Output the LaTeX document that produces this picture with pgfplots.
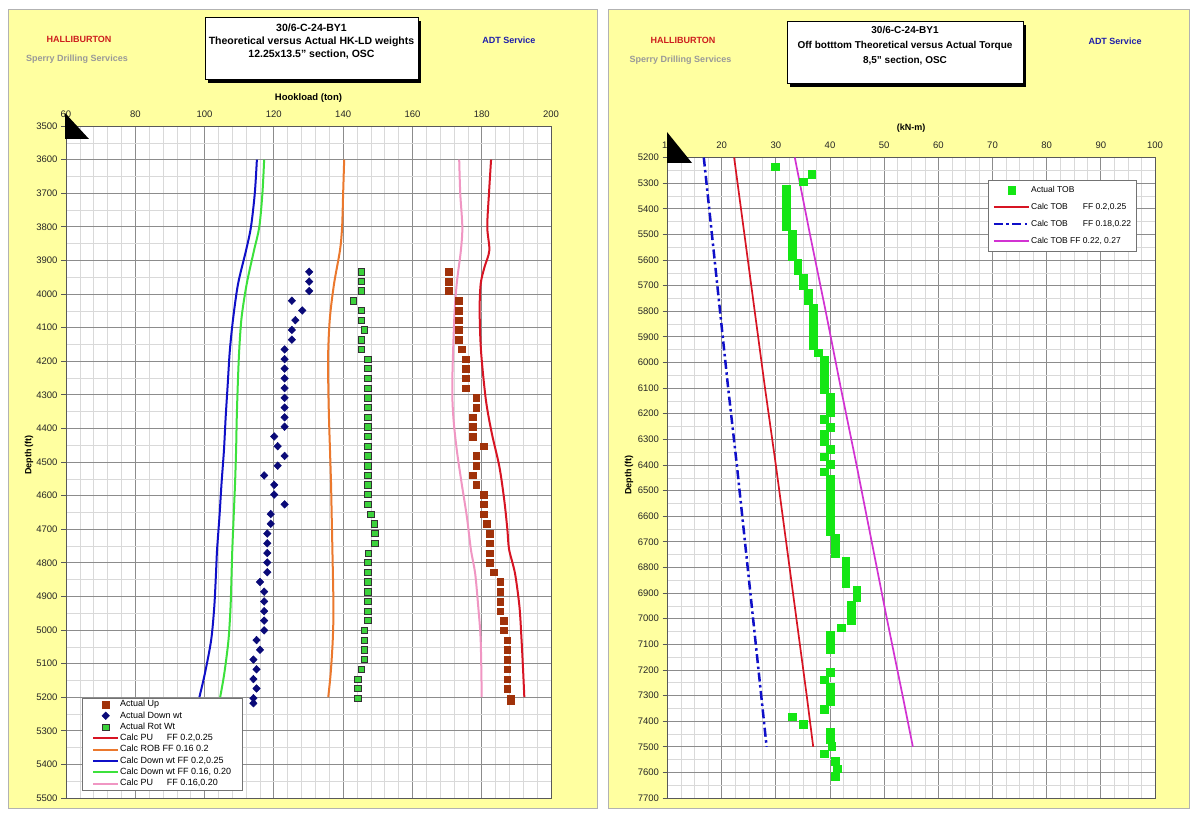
\documentclass[border=0pt]{standalone}
\usepackage{pgfplots}
\pgfplotsset{compat=1.18}
\usepackage{fontspec}
\setmainfont{Liberation Sans}
\definecolor{panelyellow}{RGB}{255,255,160}
\definecolor{upbrown}{RGB}{160,50,10}
\definecolor{navyd}{RGB}{10,10,120}
\definecolor{rotgreen}{RGB}{60,210,60}
\definecolor{calcred}{RGB}{215,20,35}
\definecolor{calcorange}{RGB}{235,120,45}
\definecolor{calcblue}{RGB}{15,15,200}
\definecolor{calcgreen}{RGB}{60,225,60}
\definecolor{calcpink}{RGB}{240,150,195}
\definecolor{tobgreen}{RGB}{20,230,20}
\definecolor{tobmag}{RGB}{210,50,210}
\definecolor{hred}{RGB}{205,30,30}
\definecolor{adtblue}{RGB}{30,30,170}
\pgfplotsset{
  lineL/.style={legend image code/.code={\draw[##1] (0pt,0pt) -- (25pt,0pt);}},
  markL/.style={legend image code/.code={\draw[mark repeat=2,mark phase=2,##1] plot coordinates {(0pt,0pt) (12.5pt,0pt) (25pt,0pt)};}},
  lineR/.style={legend image code/.code={\draw[##1] (0pt,0pt) -- (35pt,0pt);}},
  markR/.style={legend image code/.code={\draw[mark repeat=2,mark phase=2,##1] plot coordinates {(0pt,0pt) (17.5pt,0pt) (35pt,0pt)};}},
  panel/.style={
    scale only axis, anchor=south west, y dir=reverse,
    grid=both,
    major grid style={draw=black!45, line width=0.8pt},
    minor grid style={draw=black!15, line width=0.5pt},
    axis line style={draw=black!65, line width=0.9pt},
    axis background/.style={fill=white},
    xticklabel pos=upper, xtick pos=right, ytick pos=left,
    tick align=outside, major tick length=5pt, minor tick length=0pt,
    x tick style={draw=none},
    tick style={draw=black!65, line width=0.8pt},
    tick label style={font=\fontsize{9.5}{11}\selectfont, text=black!85},
    /pgf/number format/assume math mode=true,
    yticklabel style={/pgf/number format/1000 sep={}},
    legend cell align=left,
  },
}
\begin{document}
\begin{tikzpicture}
\begin{scope}[x=1pt,y=1pt]
\useasboundingbox (0,0) rectangle (1191,812);
\fill[white] (0,0) rectangle (1191,812);
\filldraw[fill=panelyellow, draw=black!30, line width=1pt] (8,4) rectangle (597,802);
\filldraw[fill=panelyellow, draw=black!30, line width=1pt] (608,4) rectangle (1189,802);
\end{scope}

% ---------- LEFT PANEL ----------
\begin{axis}[panel,
  at={(66pt,14pt)}, width=485pt, height=672pt,
  xmin=60, xmax=200, ymin=3500, ymax=5500,
  xtick={60,80,...,200}, ytick={3500,3600,...,5500},
  minor x tick num=4, minor y tick num=1,
  legend style={at={(0.033,0.1488)}, anchor=north west, draw=black!55, fill=white,
    font=\fontsize{9}{11}\selectfont, inner xsep=10pt, inner ysep=1.5pt, row sep=1.8pt,
    nodes={inner xsep=1pt, inner ysep=0.5pt, text height=6.5pt, text depth=2pt}},
]
\addplot[only marks, mark=square*, mark size=3.3pt, draw=upbrown, fill=upbrown, line width=0.5pt, markL] coordinates {
(170.4,3934) (170.4,3963) (170.4,3991) (173.4,4020) (173.4,4049) (173.4,4078) (173.4,4107) (173.4,4136) (174.3,4165) (175.4,4194) (175.4,4222) (175.4,4251) (175.4,4280) (178.4,4309) (178.4,4338) (177.4,4367) (177.4,4395) (177.4,4424) (180.5,4453) (178.4,4482) (178.4,4511) (177.4,4540) (178.4,4568) (180.5,4597) (180.5,4626) (180.5,4655) (181.4,4684) (182.4,4713) (182.4,4742) (182.4,4771) (182.4,4799) (183.4,4828) (185.4,4857) (185.4,4886) (185.4,4915) (185.4,4944) (186.4,4972) (186.4,5001) (187.4,5030) (187.4,5059) (187.4,5088) (187.4,5117) (187.4,5146) (187.4,5174) (188.4,5203) (188.4,5212)};
\addlegendentry{Actual Up}
\addplot[only marks, mark=diamond*, mark size=3.8pt, draw=navyd, fill=navyd, line width=0.5pt, mark options={xscale=1.3}, markL] coordinates {
(130.2,3934) (130.2,3963) (130.2,3991) (125.2,4020) (128.2,4049) (126.2,4078) (125.2,4107) (125.2,4136) (123.1,4165) (123.1,4194) (123.1,4222) (123.1,4251) (123.1,4280) (123.1,4309) (123.1,4338) (123.1,4367) (123.1,4395) (120.1,4424) (121.1,4453) (123.1,4482) (121.1,4511) (117.2,4540) (120.1,4568) (120.1,4597) (123.1,4626) (119.1,4655) (119.1,4684) (118.1,4713) (118.1,4742) (118.1,4771) (118.1,4799) (118.1,4828) (116.0,4857) (117.2,4886) (117.2,4915) (117.2,4944) (117.2,4972) (117.2,5001) (115.0,5030) (116.0,5059) (114.1,5088) (115.0,5117) (114.1,5146) (115.0,5174) (114.1,5203) (114.1,5218)};
\addlegendentry{Actual Down wt}
\addplot[only marks, mark=square*, mark size=3.2pt, draw=black!80, fill=rotgreen, line width=0.7pt, markL] coordinates {
(145.2,3934) (145.2,3963) (145.2,3991) (142.9,4020) (145.2,4049) (145.2,4078) (146.1,4107) (145.2,4136) (145.2,4165) (147.1,4194) (147.1,4222) (147.1,4251) (147.1,4280) (147.1,4309) (147.1,4338) (147.1,4367) (147.1,4395) (147.1,4424) (147.1,4453) (147.1,4482) (147.1,4511) (147.1,4540) (147.1,4568) (147.1,4597) (147.1,4626) (148.0,4655) (149.0,4684) (149.2,4713) (149.2,4742) (147.3,4771) (147.1,4799) (147.1,4828) (147.1,4857) (147.1,4886) (147.1,4915) (147.1,4944) (147.1,4972) (146.1,5001) (146.1,5030) (146.1,5059) (146.1,5088) (145.2,5117) (144.2,5146) (144.2,5174) (144.2,5203)};
\addlegendentry{Actual Rot Wt}
\addplot[calcred, line width=2pt, smooth, lineL] coordinates {
(182.7,3600) (182.1,3700) (181.6,3800) (182.2,3870) (180.8,3920) (179.7,3970) (179.4,4050) (179.8,4170) (181.2,4315) (182.9,4414) (185.1,4514) (186.5,4613) (187.4,4700) (187.9,4760) (189.6,4831) (190.9,4931) (191.5,5030) (191.9,5110) (192.3,5200)};
\addlegendentry{Calc PU\hspace{13.7pt}FF 0.2,0.25}
\addplot[calcorange, line width=2pt, smooth, lineL] coordinates {
(140.3,3600) (140.0,3700) (139.7,3800) (139.1,3869) (137.4,3968) (136.2,4068) (135.7,4167) (135.7,4266) (135.9,4365) (136.2,4464) (136.5,4563) (136.7,4662) (136.9,4762) (137.2,4931) (137.0,5030) (136.4,5129) (135.7,5200)};
\addlegendentry{Calc ROB FF 0.16 0.2}
\addplot[calcblue, line width=2pt, smooth, lineL] coordinates {
(115.1,3600) (114.5,3700) (113.4,3800) (112.0,3869) (109.7,3968) (108.3,4068) (107.3,4167) (106.7,4266) (106.1,4365) (105.6,4464) (104.9,4563) (104.3,4662) (103.6,4762) (103.3,4831) (102.8,4931) (101.9,5030) (100.1,5129) (98.5,5200)};
\addlegendentry{Calc Down wt FF 0.2,0.25}
\addplot[calcgreen, line width=2pt, smooth, lineL] coordinates {
(117.2,3600) (116.7,3700) (115.8,3800) (114.3,3869) (112.2,3968) (110.7,4068) (110.0,4167) (109.6,4266) (109.3,4365) (109.1,4464) (108.8,4563) (108.4,4662) (108.0,4762) (107.8,4831) (107.5,4931) (106.9,5030) (105.7,5129) (104.5,5200)};
\addlegendentry{Calc Down wt FF 0.16, 0.20}
\addplot[calcpink, line width=2pt, smooth, lineL] coordinates {
(173.5,3600) (173.8,3700) (174.4,3800) (174.0,3869) (172.8,3968) (172.1,4068) (171.5,4266) (171.8,4365) (172.8,4464) (174.2,4563) (175.7,4662) (176.9,4762) (178.1,4831) (179.0,4931) (179.7,5030) (180.0,5200)};
\addlegendentry{Calc PU\hspace{13.7pt}FF 0.16,0.20}
\end{axis}

% ---------- RIGHT PANEL ----------
\begin{axis}[panel,
  at={(667.5pt,14pt)}, width=487.5pt, height=640.5pt,
  xmin=10, xmax=100, ymin=5200, ymax=7700,
  xtick={10,20,...,100}, ytick={5200,5300,...,7700},
  minor x tick num=3, minor y tick num=1,
  legend style={at={(0.6574,0.9649)}, anchor=north west, draw=black!55, fill=white,
    font=\fontsize{8.5}{10}\selectfont, inner xsep=4.5pt, inner ysep=5.25pt, row sep=7.5pt,
    nodes={inner xsep=1pt, inner ysep=0.5pt, text height=6.5pt, text depth=2pt}},
]
\addplot[only marks, mark=square*, mark size=3.8pt, draw=tobgreen, fill=tobgreen, line width=0.1pt, markR] coordinates {
(29.9,5236) (36.6,5265) (35.0,5294) (31.9,5323) (31.9,5352) (31.9,5381) (31.9,5410) (31.9,5439) (31.9,5468) (33.0,5497) (33.0,5526) (33.0,5555) (33.0,5584) (34.0,5613) (34.0,5642) (35.0,5671) (35.0,5700) (35.9,5729) (35.9,5758) (36.9,5787) (36.9,5816) (36.9,5845) (36.9,5874) (36.9,5903) (36.9,5932) (37.8,5961) (38.9,5990) (38.9,6019) (38.9,6048) (38.9,6077) (38.9,6106) (40.0,6135) (40.0,6164) (40.0,6193) (38.9,6222) (40.0,6251) (38.9,6280) (38.9,6309) (40.0,6338) (38.9,6367) (40.0,6396) (38.9,6425) (40.0,6454) (40.0,6483) (40.0,6512) (40.0,6541) (40.0,6570) (40.0,6599) (40.0,6628) (40.0,6657) (40.9,6686) (40.9,6715) (40.9,6744) (42.9,6773) (42.9,6802) (42.9,6831) (42.9,6860) (44.9,6889) (44.9,6918) (43.9,6947) (43.9,6976) (43.9,7005) (42.0,7034) (40.0,7063) (40.0,7092) (40.0,7121) (40.0,7208) (38.9,7237) (40.0,7266) (40.0,7295) (40.0,7324) (38.9,7353) (33.0,7382) (35.0,7411) (40.0,7440) (40.0,7469) (40.3,7498) (38.9,7527) (40.9,7556) (41.3,7585) (40.9,7614)};
\addlegendentry{Actual TOB}
\addplot[calcred, line width=1.7pt, lineR] coordinates {
(22.3,5200) (24.2,5500) (26.1,5800) (28.0,6100) (30.0,6400) (31.9,6700) (33.8,7000) (35.7,7300) (36.9,7500)};
\addlegendentry{Calc TOB\hspace{15pt}FF 0.2,0.25}
\addplot[calcblue, line width=2.5pt, dash pattern=on 9pt off 3.5pt on 2.5pt off 3.5pt, lineR] coordinates {
(16.7,5200) (18.2,5500) (19.7,5800) (21.2,6100) (22.8,6400) (24.3,6700) (25.8,7000) (27.3,7300) (28.3,7500)};
\addlegendentry{Calc TOB\hspace{15pt}FF 0.18,0.22}
\addplot[tobmag, line width=1.7pt, lineR] coordinates {
(33.5,5200) (36.3,5500) (39.2,5800) (42.0,6100) (44.9,6400) (47.7,6700) (50.5,7000) (53.4,7300) (55.3,7500)};
\addlegendentry{Calc TOB FF 0.22, 0.27}
\end{axis}

\begin{scope}[x=1pt,y=1pt]
% triangles
\fill[black] (65,699) -- (65,673) -- (89,673) -- cycle;
\fill[black] (667,680) -- (667,649) -- (692,649) -- cycle;

% ---------- LEFT TEXT ----------
\fill[black] (208,729) rectangle (421,791);
\filldraw[fill=white, draw=black, line width=1pt] (205,732) rectangle (418,794);
\node[font=\bfseries\fontsize{10.5}{12}\selectfont] at (311.5,784) {30/6-C-24-BY1};
\node[font=\bfseries\fontsize{10.5}{12}\selectfont] at (311.5,770) {Theoretical versus Actual HK-LD weights};
\node[font=\bfseries\fontsize{10.5}{12}\selectfont] at (311.5,757) {12.25x13.5'' section, OSC};
\node[font=\bfseries\fontsize{9}{11}\selectfont, text=hred] at (79,772.7) {HALLIBURTON};
\node[font=\bfseries\fontsize{9}{11}\selectfont, text=black!40] at (77,752.7) {Sperry Drilling Services};
\node[font=\bfseries\fontsize{9}{11}\selectfont, text=adtblue] at (509,772) {ADT Service};
\node[font=\bfseries\fontsize{9.5}{11}\selectfont] at (308.5,714) {Hookload (ton)};
\node[font=\bfseries\fontsize{9}{11}\selectfont, rotate=90] at (29,357) {Depth (ft)};

% ---------- RIGHT TEXT ----------
\fill[black] (790,725) rectangle (1026,787);
\filldraw[fill=white, draw=black, line width=1pt] (787,728) rectangle (1023,790);
\node[font=\bfseries\fontsize{10}{12}\selectfont] at (905,782) {30/6-C-24-BY1};
\node[font=\bfseries\fontsize{10}{12}\selectfont] at (905,766) {Off botttom Theoretical versus Actual Torque};
\node[font=\bfseries\fontsize{10}{12}\selectfont] at (905,751) {8,5'' section, OSC};
\node[font=\bfseries\fontsize{9}{11}\selectfont, text=hred] at (683,771.3) {HALLIBURTON};
\node[font=\bfseries\fontsize{9}{11}\selectfont, text=black!40] at (680.5,752) {Sperry Drilling Services};
\node[font=\bfseries\fontsize{9}{11}\selectfont, text=adtblue] at (1115,771) {ADT Service};
\node[font=\bfseries\fontsize{9}{11}\selectfont] at (911,684) {(kN-m)};
\node[font=\bfseries\fontsize{9}{11}\selectfont, rotate=90] at (629,337) {Depth (ft)};
\end{scope}
\end{tikzpicture}
\end{document}
